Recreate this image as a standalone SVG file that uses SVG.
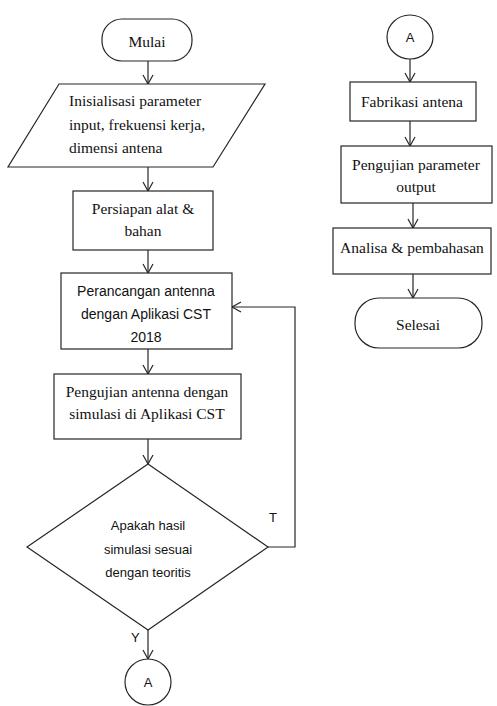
<svg xmlns="http://www.w3.org/2000/svg" width="497" height="706" viewBox="0 0 497 706">
<style>
.s{fill:#fff;stroke:#262626;stroke-width:1.2}
.c{fill:none;stroke:#262626;stroke-width:1.2}
.t{font-family:"Liberation Serif","Times New Roman",serif;font-size:15.5px;fill:#111}
.k{font-family:"Liberation Sans",Arial,sans-serif;font-size:13px;fill:#111}
.p{font-size:14px}
.m{text-anchor:middle}
</style>
<defs>
<marker id="ah" markerWidth="12" markerHeight="12" refX="10" refY="6" orient="auto" markerUnits="userSpaceOnUse">
<polyline points="1,1 10,6 1,11" fill="none" stroke="#262626" stroke-width="1.2"/>
</marker>
</defs>
<rect width="497" height="706" fill="#fff"/>
<g id="connectors">
<line class="c" x1="148" y1="61" x2="148" y2="84" marker-end="url(#ah)"/>
<line class="c" x1="148" y1="167" x2="148" y2="191" marker-end="url(#ah)"/>
<line class="c" x1="148" y1="250" x2="148" y2="273" marker-end="url(#ah)"/>
<line class="c" x1="148" y1="349" x2="148" y2="374" marker-end="url(#ah)"/>
<line class="c" x1="148" y1="439" x2="148" y2="464" marker-end="url(#ah)"/>
<polyline class="c" points="268,547 295,547 295,307 232,307" marker-end="url(#ah)"/>
<line class="c" x1="148" y1="630" x2="148" y2="659" marker-end="url(#ah)"/>
<line class="c" x1="410" y1="59" x2="410" y2="82" marker-end="url(#ah)"/>
<line class="c" x1="410" y1="121" x2="410" y2="146" marker-end="url(#ah)"/>
<line class="c" x1="413" y1="203" x2="413" y2="228" marker-end="url(#ah)"/>
<line class="c" x1="413" y1="274" x2="413" y2="298" marker-end="url(#ah)"/>
<text class="k" x="269" y="522">T</text>
<text class="k" x="131" y="642">Y</text>
</g>
<g id="mulai">
<rect class="s" x="102" y="19" width="90" height="42" rx="20"/>
<text class="t m" x="147" y="47">Mulai</text>
</g>
<g id="inisialisasi">
<polygon class="s" points="59,84 265,84 213,167 8,167"/>
<text class="t" x="69" y="106">Inisialisasi parameter</text>
<text class="t" x="69" y="130">input, frekuensi kerja,</text>
<text class="t" x="69" y="153">dimensi antena</text>
</g>
<g id="persiapan">
<rect class="s" x="73" y="191" width="140" height="59"/>
<text class="t m" x="143" y="214">Persiapan alat &amp;</text>
<text class="t m" x="143" y="236">bahan</text>
</g>
<g id="perancangan">
<rect class="s" x="61" y="273" width="171" height="76"/>
<text class="k p m" x="146" y="296">Perancangan antenna</text>
<text class="k p m" x="146" y="319">dengan Aplikasi CST</text>
<text class="k p m" x="146" y="342">2018</text>
</g>
<g id="pengujian-simulasi">
<rect class="s" x="54" y="374" width="187" height="65"/>
<text class="t m" x="147" y="397">Pengujian antenna dengan</text>
<text class="t m" x="147" y="419">simulasi di Aplikasi CST</text>
</g>
<g id="keputusan">
<polygon class="s" points="148,464 268,547 148,630 27,547"/>
<text class="k m" x="148" y="530">Apakah hasil</text>
<text class="k m" x="148" y="554">simulasi sesuai</text>
<text class="k m" x="148" y="577">dengan teoritis</text>
</g>
<g id="konektor-a-bawah">
<circle class="s" cx="148" cy="682" r="23"/>
<text class="k m" x="148" y="687">A</text>
</g>
<g id="konektor-a-atas">
<ellipse class="s" cx="410" cy="37" rx="23" ry="22"/>
<text class="k m" x="410" y="42">A</text>
</g>
<g id="fabrikasi">
<rect class="s" x="350" y="82" width="126" height="39"/>
<text class="t m" x="412" y="107">Fabrikasi antena</text>
</g>
<g id="pengujian-parameter">
<rect class="s" x="341" y="146" width="151" height="57"/>
<text class="t m" x="416" y="170">Pengujian parameter</text>
<text class="t m" x="416" y="192">output</text>
</g>
<g id="analisa">
<rect class="s" x="333" y="228" width="158" height="46"/>
<text class="t m" x="412" y="253">Analisa &amp; pembahasan</text>
</g>
<g id="selesai">
<rect class="s" x="355" y="298" width="127" height="50" rx="24"/>
<text class="t m" x="418" y="330">Selesai</text>
</g>
</svg>
